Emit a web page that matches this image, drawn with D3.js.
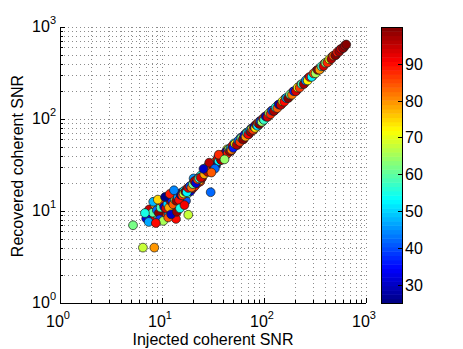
<!DOCTYPE html>
<html>
<head>
<meta charset="utf-8">
<script src="https://cdn.jsdelivr.net/npm/d3@7"></script>
<style>
  body { margin: 0; background: #fff; }
  text { font-family: "Liberation Sans", Arial, sans-serif; fill: #000; }
</style>
</head>
<body>
<div id="chart"></div>
<script>

// injected SNR, recovered SNR and the colour parameter of each point
var injected = [
  20.4, 23.7, 27.5, 31.5, 35.5, 39.5, 43.5, 47.5, 51, 55, 59, 63, 67, 71, 75, 79, 83, 87, 91, 96,
  102, 110, 118, 127, 137, 149, 161, 176, 192, 209, 229, 250, 273, 299, 327, 358, 392, 428, 467, 510,
  556, 605,
  5.2, 6.5, 8.4, 18.1, 30, 13.7, 7.2, 7.8, 8.0, 8.3, 8.6, 8.8, 9.0, 9.2, 9.4, 9.6, 9.8, 10.0, 10.2, 10.4,
  10.6, 10.8, 11.0, 11.2, 11.4, 11.6, 11.8, 12.0, 12.2, 12.4, 12.6, 12.8, 13.0, 13.3, 13.6, 13.9, 14.2, 14.5, 14.8, 15.1,
  15.4, 15.7, 16.0, 16.4, 16.8, 17.2, 17.6, 18.0, 18.5, 19.0, 19.5, 20.0, 20.5, 21.0, 21.6, 22.2, 22.8, 23.4, 24.0, 24.7,
  7.5, 8.1, 8.5, 8.9, 9.3, 9.7, 10.1, 10.5, 10.9, 11.3, 11.7, 12.1, 12.5, 12.9, 13.4, 13.8, 14.3, 14.7, 15.2, 15.8,
  16.3, 16.9, 17.5, 18.1, 18.8, 19.4, 20.1, 20.8, 21.5, 22.3, 23.1, 24.0, 9.5, 10.3, 11.5, 12.3, 14.0, 15.0, 16.6, 8.2,
  9.1, 10.7, 11.9, 13.1, 7.0, 6.8, 7.4, 8.7,
  26, 27, 28, 29, 30, 31, 32, 33, 34, 35, 36, 37, 38, 39, 40, 41, 42, 43, 44, 45,
  46, 47, 48, 49, 50, 52, 54, 56, 58, 60, 62, 64, 66, 68, 70, 72, 74, 76, 78, 80,
  82, 84, 86, 88, 90, 92, 95, 98, 100, 29, 33, 36, 41, 25.5, 30.5,
  104, 108, 112, 116, 120, 125, 130, 135, 140, 146, 152, 158, 165, 172, 180, 188, 196, 205, 214, 224,
  234, 245, 256, 268, 280, 293, 306, 320, 335, 350, 366, 383, 400, 418, 437, 457, 478, 500, 522, 546,
  570, 595, 620, 640
];
var recovered = [
  22.6, 20.9, 30.0, 29.0, 38.4, 36.8, 46.8, 45.0, 54.3, 52.3, 62.4, 60.1, 70.6, 68.3, 78.7, 76.2, 86.6, 84.1, 94.9, 93.0,
  106.0, 107.0, 122.3, 123.9, 141.6, 145.5, 166.1, 171.9, 197.6, 204.4, 235.1, 244.8, 280.0, 292.8, 334.8, 350.9, 400.5, 420.0, 476.0, 501.0,
  566.0, 597.0,
  7.0, 4.0, 4.0, 9.1, 16, 8.2, 9.8, 8.9, 10.5, 9.3, 8.4, 11.2, 9.9, 8.7, 10.8, 12.0, 9.2, 11.5, 8.9, 10.3,
  12.6, 9.6, 11.0, 13.2, 10.1, 9.3, 12.1, 10.8, 13.9, 11.6, 9.8, 12.8, 11.1, 14.5, 12.3, 10.6, 13.6, 15.2, 12.0, 14.2,
  11.4, 15.9, 13.4, 16.5, 14.6, 12.9, 17.5, 15.6, 18.2, 16.4, 19.1, 17.6, 20.3, 18.6, 21.5, 20.0, 22.9, 21.4, 24.3, 22.9,
  10.4, 9.6, 11.7, 10.2, 9.5, 10.9, 12.4, 11.1, 10.7, 11.9, 10.9, 12.9, 13.1, 11.8, 13.3, 12.9, 14.3, 13.2, 15.0, 14.8,
  15.5, 16.2, 16.0, 17.8, 18.6, 18.0, 19.6, 21.1, 20.1, 22.0, 22.6, 23.1, 8.1, 7.8, 8.5, 9.2, 9.8, 10.7, 11.6, 12.6,
  13.3, 14.2, 15.3, 16.8, 8.3, 9.5, 7.6, 7.4,
  25.1, 28.4, 26.6, 30.2, 28.1, 32.5, 30.4, 34.1, 31.9, 36.3, 34.8, 38.0, 35.7, 40.6, 38.5, 42.4, 40.0, 44.6, 42.3, 46.9,
  44.8, 48.4, 46.1, 51.0, 48.6, 53.6, 52.4, 58.1, 56.3, 62.1, 60.0, 66.3, 64.2, 70.0, 68.1, 74.4, 72.6, 78.1, 76.2, 82.4,
  80.1, 86.2, 84.3, 90.1, 88.0, 94.5, 93.1, 100.6, 97.8, 33.5, 28.9, 40.9, 36.4, 28.7, 26.2,
  106.5, 105.2, 115.3, 113.0, 123.4, 121.8, 133.6, 131.5, 143.8, 142.3, 155.9, 154.0, 169.2, 168.1, 184.6, 183.5, 200.8, 200.1, 219.3, 219.0,
  239.7, 239.5, 262.0, 262.3, 286.4, 287.0, 312.8, 313.6, 342.0, 343.5, 373.5, 376.0, 408.0, 410.5, 445.5, 449.0, 487.0, 492.0, 531.0, 539.0,
  579.0, 589.0, 628.0, 645.0
];
var colorValue = [
  45, 88, 60, 97, 33, 82, 70, 94, 52, 99, 40, 86, 63, 95, 29, 78, 91, 55, 98, 46,
  85, 66, 96, 37, 90, 58, 99, 74, 87, 43, 97, 62, 92, 80, 99, 51, 95, 76, 98, 88,
  99, 93,
  62, 68, 80, 68, 42, 90, 40, 88, 35, 52, 92, 30, 97, 60, 84, 45, 28, 95, 72, 98,
  55, 88, 34, 66, 91, 48, 99, 62, 26, 86, 50, 96, 70, 38, 93, 57, 82, 44, 99, 64,
  90, 30, 76, 53, 97, 41, 86, 59, 94, 33, 74, 98, 47, 89, 63, 92, 36, 80, 55, 97,
  95, 60, 80, 42, 99, 58, 88, 32, 94, 50, 78, 96, 36, 84, 65, 98, 46, 90, 27, 86,
  68, 99, 52, 92, 40, 83, 61, 96, 31, 87, 57, 93, 38, 66, 84, 30, 98, 55, 91, 48,
  75, 26, 89, 44, 33, 55, 47, 90,
  78, 35, 95, 60, 88, 45, 99, 70, 28, 92, 52, 85, 97, 40, 76, 94, 58, 30, 89, 65,
  98, 48, 82, 93, 36, 71, 96, 43, 87, 62, 99, 33, 80, 55, 91, 45, 97, 68, 86, 29,
  74, 95, 51, 83, 98, 38, 64, 90, 57, 96, 42, 88, 64, 30, 84,
  32, 93, 67, 88, 40, 97, 55, 84, 30, 95, 71, 90, 48, 99, 62, 82, 36, 94, 74, 87,
  58, 97, 44, 72, 91, 53, 85, 66, 98, 79, 57, 93, 63, 88, 71, 96, 84, 99, 89, 97,
  92, 98, 96, 99
];
var logTicks = [1, 10, 100, 1000];
var tickPower = ["0", "1", "2", "3"];
var cbTicks = [30, 40, 50, 60, 70, 80, 90];
var cbDomain = [25, 100];

var width = 463, height = 349;
var margin = {left: 60, top: 27, right: 97, bottom: 46};
var plotW = width - margin.left - margin.right;
var plotH = height - margin.top - margin.bottom;

var svg = d3.select("#chart").append("svg")
  .attr("width", width).attr("height", height);

var x = d3.scaleLog().domain([1, 1000]).range([margin.left, margin.left + plotW]);
var y = d3.scaleLog().domain([1, 1000]).range([margin.top + plotH, margin.top]);

// matlab jet, 64 steps
function jet(t) {
  var k = Math.min(63, Math.floor(t * 64));
  var v = (k + 0.5) / 64;
  function c(o) { return Math.max(0, Math.min(1, 1.5 - Math.abs(4 * v - o))); }
  return d3.rgb(c(3) * 255, c(2) * 255, c(1) * 255).toString();
}
var colorT = d3.scaleLinear().domain(cbDomain).range([0, 1]).clamp(true);

// minor + major grid values
var gridVals = [];
[1, 10, 100].forEach(function(d) {
  for (var i = 1; i < 10; i++) gridVals.push(d * i);
});
gridVals.push(1000);

var grid = svg.append("g").attr("class", "grid")
  .attr("stroke", "#8c8c8c").attr("stroke-width", 1).attr("stroke-dasharray", "1,3");

grid.selectAll(".gx").data(gridVals).enter().append("line")
  .attr("x1", function(d) { return Math.round(x(d)) + 0.5; })
  .attr("x2", function(d) { return Math.round(x(d)) + 0.5; })
  .attr("y1", margin.top).attr("y2", margin.top + plotH);

grid.selectAll(".gy").data(gridVals).enter().append("line")
  .attr("y1", function(d) { return Math.round(y(d)) + 0.5; })
  .attr("y2", function(d) { return Math.round(y(d)) + 0.5; })
  .attr("x1", margin.left).attr("x2", margin.left + plotW);

// points
var pts = d3.range(injected.length);
svg.append("g").selectAll("circle").data(pts).enter().append("circle")
  .attr("cx", function(i) { return x(injected[i]); })
  .attr("cy", function(i) { return y(recovered[i]); })
  .attr("r", 4.4)
  .attr("fill", function(i) { return jet(colorT(colorValue[i])); })
  .attr("stroke", "#1e1e1e")
  .attr("stroke-width", 0.7);

// axes, ticks inward, no box
var ax = svg.append("g").attr("stroke", "#000").attr("stroke-width", 1);
ax.append("line").attr("x1", margin.left + 0.5).attr("x2", margin.left + 0.5)
  .attr("y1", margin.top).attr("y2", margin.top + plotH + 0.5);
ax.append("line").attr("x1", margin.left).attr("x2", margin.left + plotW)
  .attr("y1", margin.top + plotH + 0.5).attr("y2", margin.top + plotH + 0.5);

ax.selectAll(".tx").data(gridVals).enter().append("line")
  .attr("x1", function(d) { return Math.round(x(d)) + 0.5; })
  .attr("x2", function(d) { return Math.round(x(d)) + 0.5; })
  .attr("y1", margin.top + plotH)
  .attr("y2", function(d) { return margin.top + plotH - (logTicks.indexOf(d) >= 0 ? 5 : 3); });
ax.selectAll(".ty").data(gridVals).enter().append("line")
  .attr("y1", function(d) { return Math.round(y(d)) + 0.5; })
  .attr("y2", function(d) { return Math.round(y(d)) + 0.5; })
  .attr("x1", margin.left)
  .attr("x2", function(d) { return margin.left + (logTicks.indexOf(d) >= 0 ? 5 : 3); });

function powLabel(sel) {
  sel.append("tspan").text("10");
  sel.append("tspan").attr("dy", -8).attr("font-size", 11).text(function(d, i) { return tickPower[i]; });
}

svg.append("g").selectAll("text").data(logTicks).enter().append("text")
  .attr("x", function(d) { return x(d) - 2; })
  .attr("y", margin.top + plotH + 24)
  .attr("font-size", 16)
  .attr("text-anchor", "middle")
  .call(powLabel);

svg.append("g").selectAll("text").data(logTicks).enter().append("text")
  .attr("x", margin.left - 4)
  .attr("y", function(d) { return y(d) + 5; })
  .attr("font-size", 16)
  .attr("text-anchor", "end")
  .call(powLabel);

svg.append("text")
  .attr("x", 213).attr("y", 345)
  .attr("font-size", 16).attr("text-anchor", "middle")
  .text("Injected coherent SNR");

svg.append("text")
  .attr("transform", "translate(23,166) rotate(-90)")
  .attr("font-size", 16).attr("text-anchor", "middle")
  .text("Recovered coherent SNR");

// colour bar
var cbX = 381, cbW = 21;
var cb = d3.scaleLinear().domain(cbDomain).range([margin.top + plotH, margin.top]);
var steps = d3.range(64);
svg.append("g").selectAll("rect").data(steps).enter().append("rect")
  .attr("x", cbX)
  .attr("width", cbW)
  .attr("y", function(k) { return cb(cbDomain[0] + (k + 1) * (cbDomain[1] - cbDomain[0]) / 64); })
  .attr("height", plotH / 64 + 0.5)
  .attr("fill", function(k) { return jet((k + 0.5) / 64); });

svg.append("rect")
  .attr("x", cbX + 0.5).attr("y", margin.top + 0.5)
  .attr("width", cbW).attr("height", plotH)
  .attr("fill", "none").attr("stroke", "#000").attr("stroke-width", 1);

svg.append("g").selectAll("line").data(cbTicks).enter().append("line")
  .attr("x1", cbX + cbW).attr("x2", cbX + cbW - 4)
  .attr("y1", function(d) { return Math.round(cb(d)) + 0.5; })
  .attr("y2", function(d) { return Math.round(cb(d)) + 0.5; })
  .attr("stroke", "#000");

svg.append("g").selectAll("text").data(cbTicks).enter().append("text")
  .attr("x", cbX + cbW + 3)
  .attr("y", function(d) { return cb(d) + 6; })
  .attr("font-size", 16)
  .text(function(d) { return d; });

</script>
</body>
</html>
